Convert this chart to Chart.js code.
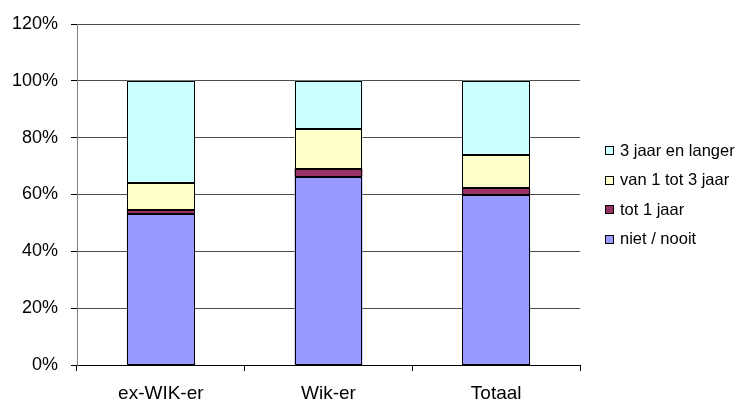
<!DOCTYPE html>
<html>
<head>
<meta charset="utf-8">
<script src="https://cdn.jsdelivr.net/npm/chart.js@4/dist/chart.umd.min.js"></script>
<style>
  html, body { margin: 0; padding: 0; background: #fff; }
  #wrap { width: 739px; height: 403px; position: relative; }
</style>
</head>
<body>
<div id="wrap"><canvas id="c" width="739" height="403"></canvas></div>
<script>
const categories = ['ex-WIK-er', 'Wik-er', 'Totaal'];
const seriesNames = ['niet / nooit', 'tot 1 jaar', 'van 1 tot 3 jaar', '3 jaar en langer'];
const nietNooit = [53.0, 66.3, 59.7];
const tot1Jaar = [1.6, 2.8, 2.7];
const van1Tot3Jaar = [9.5, 13.8, 11.6];
const drieJaarEnLanger = [35.9, 17.1, 26.0];
const yTicks = [0, 20, 40, 60, 80, 100, 120];
const seriesColors = ['#9999FF', '#993366', '#FFFFCC', '#CCFFFF'];

const FONT = "'Liberation Sans', Arial, sans-serif";
const seriesValues = [nietNooit, tot1Jaar, van1Tot3Jaar, drieJaarEnLanger];

const datasets = seriesNames.map((name, i) => ({
  label: name,
  data: seriesValues[i],
  backgroundColor: seriesColors[i],
  borderColor: '#000000',
  borderWidth: 0,
  borderSkipped: false,
  barPercentage: 0.405,
  categoryPercentage: 1.0
}));

// Crisp black outlines around the bar segments computed by Chart.js
const outlinePlugin = {
  id: 'barOutline',
  afterDatasetsDraw(chart) {
    const ctx = chart.ctx;
    ctx.save();
    ctx.strokeStyle = '#000';
    ctx.lineWidth = 1;
    chart.data.datasets.forEach((d, i) => {
      chart.getDatasetMeta(i).data.forEach(el => {
        const p = el.getProps(['x', 'y', 'base', 'width'], true);
        const l = Math.round(p.x - p.width / 2) + 0.5;
        const r = Math.round(p.x + p.width / 2) - 0.5;
        const t = Math.round(Math.min(p.y, p.base)) + 0.5;
        const b = Math.round(Math.max(p.y, p.base)) - 0.5;
        ctx.strokeRect(l, t, r - l, b - t);
      });
    });
    ctx.restore();
  }
};

const legendPlugin = {
  id: 'sideLegend',
  afterDraw(chart) {
    const ctx = chart.ctx;
    const ds = chart.data.datasets;
    ctx.save();
    ctx.font = '16.5px ' + FONT;
    ctx.textBaseline = 'middle';
    ctx.textAlign = 'left';
    const startY = 150, step = 29.6, boxX = 605, box = 8;
    for (let k = 0; k < ds.length; k++) {
      const d = ds[ds.length - 1 - k];
      const cy = startY + k * step;
      ctx.fillStyle = d.backgroundColor;
      ctx.fillRect(boxX + 0.5, Math.round(cy - box / 2) + 0.5, box, box);
      ctx.lineWidth = 1;
      ctx.strokeStyle = '#000';
      ctx.strokeRect(boxX + 0.5, Math.round(cy - box / 2) + 0.5, box, box);
      ctx.fillStyle = '#000';
      ctx.fillText(d.label, 620, cy + 1);
    }
    ctx.restore();
  }
};

new Chart(document.getElementById('c'), {
  type: 'bar',
  data: { labels: categories, datasets },
  options: {
    responsive: false,
    animation: false,
    devicePixelRatio: 1,
    layout: { padding: { left: 0, right: 159, top: 24, bottom: 0 } },
    plugins: { legend: { display: false }, tooltip: { enabled: false } },
    scales: {
      x: {
        stacked: true,
        offset: true,
        grid: {
          display: true,
          offset: true,
          drawOnChartArea: false,
          drawTicks: true,
          tickLength: 6,
          color: '#000000'
        },
        border: { display: true, color: '#000000', width: 1 },
        ticks: { color: '#000000', font: { family: FONT, size: 19 }, padding: 11 },
        afterFit(scale) { scale.height = 38; }
      },
      y: {
        stacked: true,
        min: yTicks[0],
        max: yTicks[yTicks.length - 1],
        afterBuildTicks(scale) { scale.ticks = yTicks.map(v => ({ value: v })); },
        grid: {
          color: '#4d4d4d',
          lineWidth: 1,
          drawTicks: true,
          tickLength: 6,
          tickColor: '#000000'
        },
        border: { display: true, color: '#808080', width: 1 },
        ticks: {
          color: '#000000',
          font: { family: FONT, size: 18 },
          padding: 13,
          callback: v => v + '%'
        },
        afterFit(scale) { scale.width = 77; }
      }
    }
  },
  plugins: [outlinePlugin, legendPlugin]
});
</script>
</body>
</html>
